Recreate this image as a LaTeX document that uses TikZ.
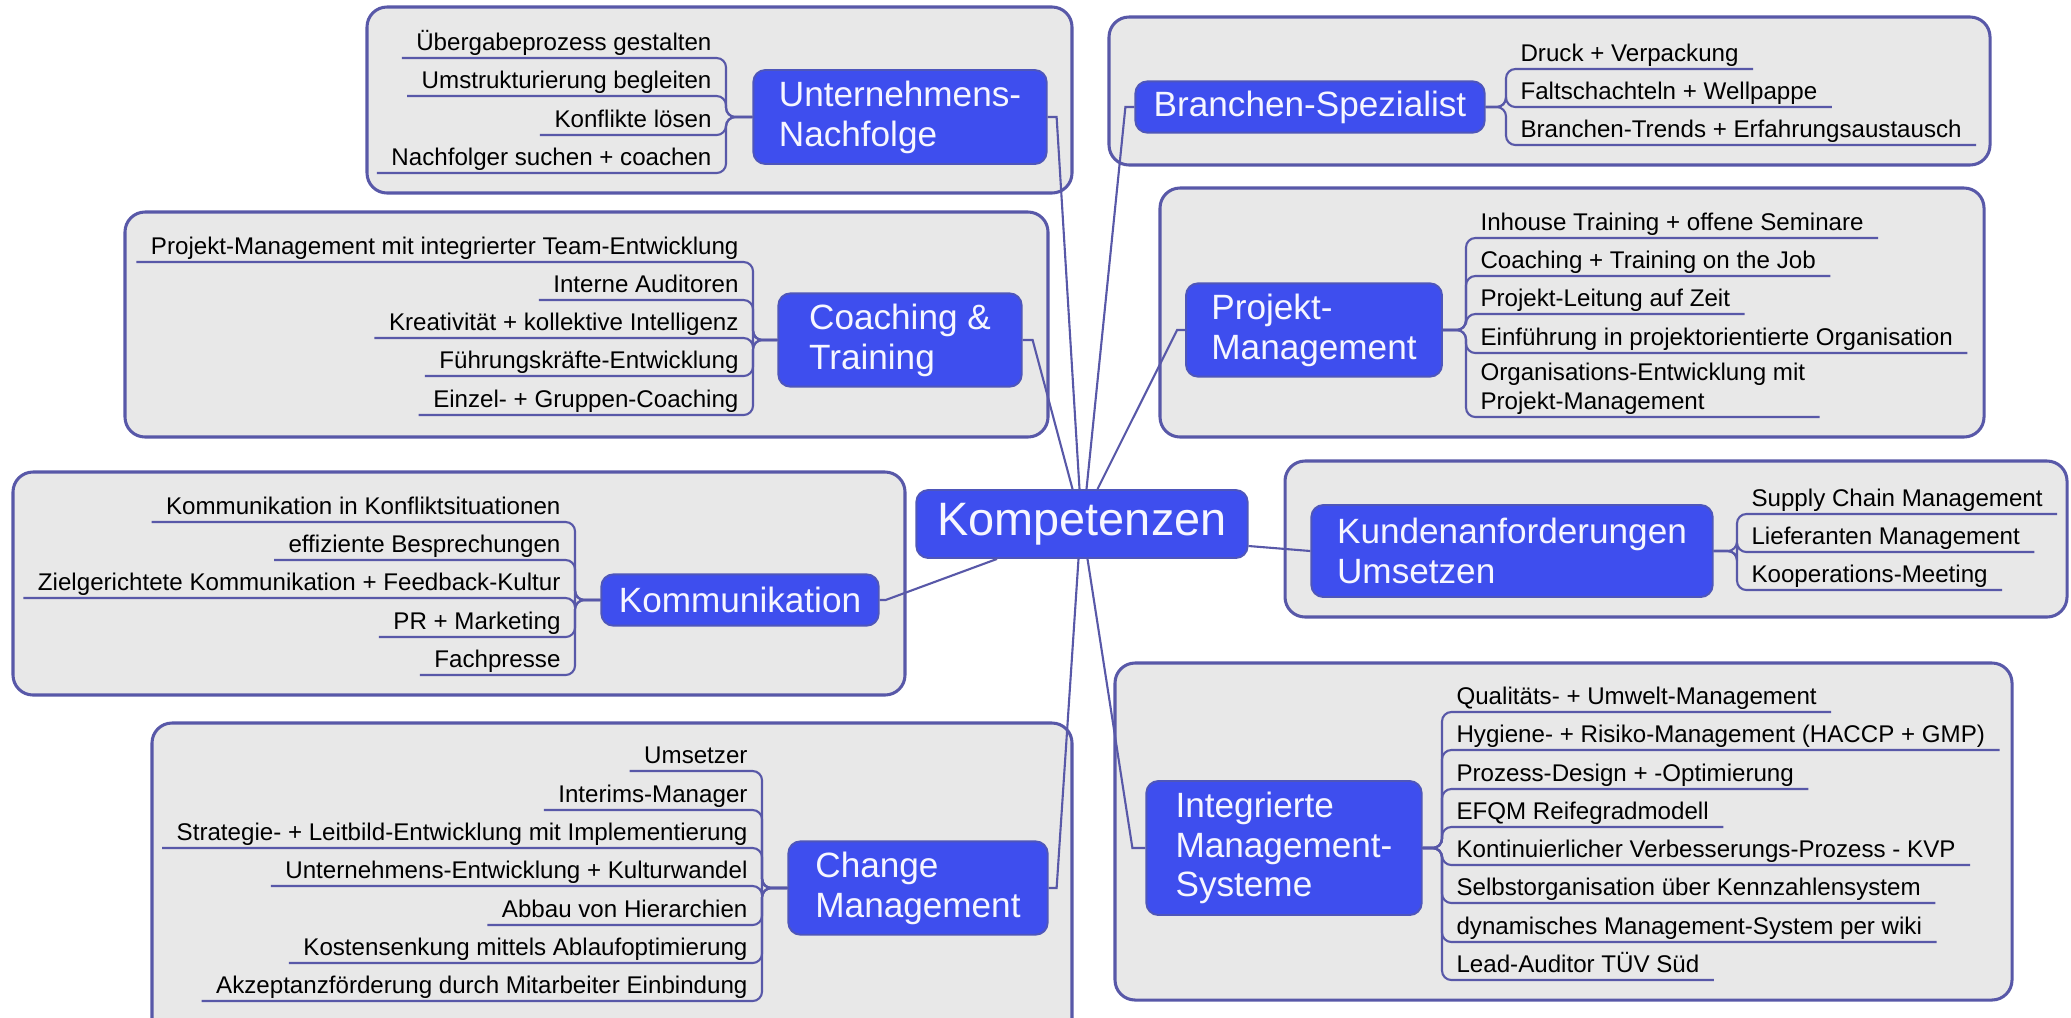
\documentclass[tikz,border=0pt]{standalone}
\usepackage{fontspec}
\setmainfont{Liberation Sans}
\usetikzlibrary{calc}
\definecolor{mapblue}{RGB}{62,78,238}
\definecolor{mapedge}{RGB}{78,86,186}
\definecolor{mapline}{RGB}{88,88,168}
\definecolor{mapgray}{RGB}{232,232,232}
\tikzset{
	topic/.style={
			draw=mapedge, fill=mapblue, text={rgb,255:red,246;green,246;blue,255},
			rounded corners=0.18cm, line width=0.8pt, align=left, inner sep=0pt,
			font=\fontsize{15}{17}\selectfont
		},
	item/.style={inner xsep=6pt, inner ysep=3pt, text depth=0pt, align=left,
			font=\fontsize{10.3}{12.4}\selectfont},
	twig/.style={draw=mapline, line width=0.9pt, rounded corners=4pt},
	branch/.style={draw=mapline, line width=0.9pt},
	group/.style={draw=mapline, fill=mapgray, line width=1.3pt, rounded corners=0.3cm}
}

\begin{document}
\begin{tikzpicture}[x=0.015cm, y=-0.015cm]
	\useasboundingbox (0,0) rectangle (2071,1017);
	% group frames
	\draw [group] (367,7) rectangle (1072,193);
	\draw [group] (1109,17) rectangle (1990,165);
	\draw [group] (125,212) rectangle (1048,437);
	\draw [group] (1160,188) rectangle (1984,437);
	\draw [group] (13,472) rectangle (905,695);
	\draw [group] (1285,461) rectangle (2067,617);
	\draw [group] (152,723) rectangle (1072,1040);
	\draw [group] (1115,663) rectangle (2012,1000);

	% centre and main topics
	\node [topic, font=\fontsize{20}{24}\selectfont, minimum width=4.97cm, minimum height=1.02cm]
		(komp) at (1082,524) {Kompetenzen};
	\node [topic, minimum width=4.40cm, minimum height=1.41cm] (un) at (900,117) {Unternehmens-\\Nachfolge};
	\node [topic, minimum width=5.24cm, minimum height=0.77cm] (bs) at (1310,107) {Branchen-Spezialist};
	\node [topic, minimum width=3.65cm, minimum height=1.40cm] (ct) at (900,340) {Coaching \&\\Training};
	\node [topic, minimum width=3.84cm, minimum height=1.40cm] (pm) at (1314,330) {Projekt-\\Management};
	\node [topic, minimum width=4.16cm, minimum height=0.77cm] (ko) at (740,600) {Kommunikation};
	\node [topic, minimum width=6.02cm, minimum height=1.38cm] (ku) at (1512,551) {Kundenanforderungen\\Umsetzen};
	\node [topic, minimum width=3.89cm, minimum height=1.40cm] (cm) at (918,888) {Change\\Management};
	\node [topic, minimum width=4.13cm, minimum height=2.01cm] (ims) at (1284,848) {Integrierte\\Management-\\Systeme};

	% sub items, left side
	\node [item, anchor=south east] (un1) at (726,58) {Übergabeprozess gestalten};
	\node [item, anchor=south east] (un2) at (726,96) {Umstrukturierung begleiten};
	\node [item, anchor=south east] (un3) at (726,135) {Konflikte lösen};
	\node [item, anchor=south east] (un4) at (726,173) {Nachfolger suchen + coachen};

	\node [item, anchor=south east] (ct1) at (753,262) {Projekt-Management mit integrierter Team-Entwicklung};
	\node [item, anchor=south east] (ct2) at (753,300) {Interne Auditoren};
	\node [item, anchor=south east] (ct3) at (753,338) {Kreativität + kollektive Intelligenz};
	\node [item, anchor=south east] (ct4) at (753,376) {Führungskräfte-Entwicklung};
	\node [item, anchor=south east] (ct5) at (753,415) {Einzel- + Gruppen-Coaching};

	\node [item, anchor=south east] (ko1) at (575,522) {Kommunikation in Konfliktsituationen};
	\node [item, anchor=south east] (ko2) at (575,560) {effiziente Besprechungen};
	\node [item, anchor=south east] (ko3) at (575,598) {Zielgerichtete Kommunikation + Feedback-Kultur};
	\node [item, anchor=south east] (ko4) at (575,637) {PR + Marketing};
	\node [item, anchor=south east] (ko5) at (575,675) {Fachpresse};

	\node [item, anchor=south east] (cm1) at (762,771) {Umsetzer};
	\node [item, anchor=south east] (cm2) at (762,810) {Interims-Manager};
	\node [item, anchor=south east] (cm3) at (762,848) {Strategie- + Leitbild-Entwicklung mit Implementierung};
	\node [item, anchor=south east] (cm4) at (762,886) {Unternehmens-Entwicklung + Kulturwandel};
	\node [item, anchor=south east] (cm5) at (762,925) {Abbau von Hierarchien};
	\node [item, anchor=south east] (cm6) at (762,963) {Kostensenkung mittels Ablaufoptimierung};
	\node [item, anchor=south east] (cm7) at (762,1001) {Akzeptanzförderung durch Mitarbeiter Einbindung};

	% sub items, right side
	\node [item, anchor=south west] (bs1) at (1506,69) {Druck + Verpackung};
	\node [item, anchor=south west] (bs2) at (1506,107) {Faltschachteln + Wellpappe};
	\node [item, anchor=south west] (bs3) at (1506,145) {Branchen-Trends + Erfahrungsaustausch};

	\node [item, anchor=south west] (pm1) at (1466,238) {Inhouse Training + offene Seminare};
	\node [item, anchor=south west] (pm2) at (1466,276) {Coaching + Training on the Job};
	\node [item, anchor=south west] (pm3) at (1466,314) {Projekt-Leitung auf Zeit};
	\node [item, anchor=south west] (pm4) at (1466,353) {Einführung in projektorientierte Organisation};
	\node [item, anchor=south west] (pm5) at (1466,417) {Organisations-Entwicklung mit\\Projekt-Management};

	\node [item, anchor=south west] (ku1) at (1737,514) {Supply Chain Management};
	\node [item, anchor=south west] (ku2) at (1737,552) {Lieferanten Management};
	\node [item, anchor=south west] (ku3) at (1737,590) {Kooperations-Meeting};

	\node [item, anchor=south west] (ims1) at (1442,712) {Qualitäts- + Umwelt-Management};
	\node [item, anchor=south west] (ims2) at (1442,750) {Hygiene- + Risiko-Management (HACCP + GMP)};
	\node [item, anchor=south west] (ims3) at (1442,789) {Prozess-Design + -Optimierung};
	\node [item, anchor=south west] (ims4) at (1442,827) {EFQM Reifegradmodell};
	\node [item, anchor=south west] (ims5) at (1442,865) {Kontinuierlicher Verbesserungs-Prozess - KVP};
	\node [item, anchor=south west] (ims6) at (1442,903) {Selbstorganisation über Kennzahlensystem};
	\node [item, anchor=south west] (ims7) at (1442,942) {dynamisches Management-System per wiki};
	\node [item, anchor=south west] (ims8) at (1442,980) {Lead-Auditor TÜV Süd};

	% twigs from topics to items
	\foreach \i in {1,...,4}
		\draw [twig] (un.west) -- (un.west -| un\i.south east) -- (un\i.south east) -- (un\i.south west);
	\foreach \i in {1,...,5}
		\draw [twig] (ct.west) -- (ct.west -| ct\i.south east) -- (ct\i.south east) -- (ct\i.south west);
	\foreach \i in {1,...,5}
		\draw [twig] (ko.west) -- (ko.west -| ko\i.south east) -- (ko\i.south east) -- (ko\i.south west);
	\foreach \i in {1,...,7}
		\draw [twig] (cm.west) -- (cm.west -| cm\i.south east) -- (cm\i.south east) -- (cm\i.south west);
	\foreach \i in {1,...,3}
		\draw [twig] (bs.east) -- (bs.east -| bs\i.south west) -- (bs\i.south west) -- (bs\i.south east);
	\foreach \i in {1,...,5}
		\draw [twig] (pm.east) -- (pm.east -| pm\i.south west) -- (pm\i.south west) -- (pm\i.south east);
	\foreach \i in {1,...,3}
		\draw [twig] (ku.east) -- (ku.east -| ku\i.south west) -- (ku\i.south west) -- (ku\i.south east);
	\foreach \i in {1,...,8}
		\draw [twig] (ims.east) -- (ims.east -| ims\i.south west) -- (ims\i.south west) -- (ims\i.south east);

	% branches from the centre
	\draw [branch] (un.east) -- ++(9,0) -- ($(komp.north)+(-2.5,0)$);
	\draw [branch] (bs.west) -- ++(-9,0) -- ($(komp.north)+(4.5,0)$);
	\draw [branch] (ct.east) -- ++(10,0) -- ($(komp.north)+(-9.5,0)$);
	\draw [branch] (pm.west) -- ++(-8,0) -- ($(komp.north)+(15.5,0)$);
	\draw [branch] (ko.east) -- ++(6,0) -- ($(komp.south)+(-85,0)$);
	\draw [branch] ($(komp.east)+(0,22)$) -- (ku.west);
	\draw [branch] (cm.east) -- ++(8,0) -- ($(komp.south)+(-3.5,0)$);
	\draw [branch] (ims.west) -- ++(-13,0) -- ($(komp.south)+(5.5,0)$);
\end{tikzpicture}
\end{document}
